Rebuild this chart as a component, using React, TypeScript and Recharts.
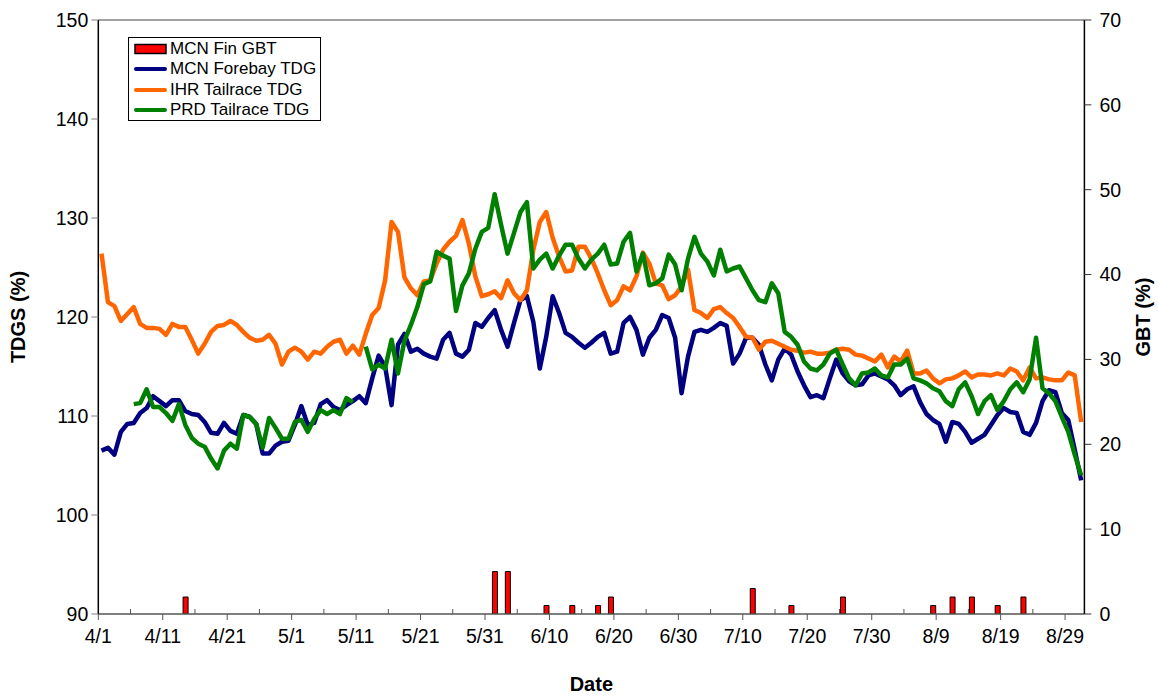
import { Bar, ComposedChart, Label, Legend, Line, ReferenceLine, XAxis, YAxis } from "recharts";

const FONT = "'Liberation Sans', Arial, sans-serif";
const TICK_FONT = 19.5;
const TITLE_FONT = 20;

// major x tick labels, every 10 days from 4/1
const MAJOR_TICK_LABELS = [
  "4/1", "4/11", "4/21", "5/1", "5/11", "5/21", "5/31", "6/10",
  "6/20", "6/30", "7/10", "7/20", "7/30", "8/9", "8/19", "8/29",
];
const LEFT_TICKS = [90, 100, 110, 120, 130, 140, 150];
const RIGHT_TICKS = [0, 10, 20, 30, 40, 50, 60, 70];

// daily values, 4/1 .. 8/31
const MCN_FOREBAY = [
  106.5, 106.8, 106.1, 108.4, 109.2, 109.3, 110.3, 110.8, 112.0, 111.5,
  111.0, 111.6, 111.6, 110.5, 110.2, 110.1, 109.4, 108.3, 108.2, 109.3,
  108.5, 108.2, 110.1, 109.9, 109.2, 106.2, 106.2, 107.0, 107.4, 107.5,
  109.1, 111.0, 109.1, 109.3, 111.2, 111.6, 110.9, 110.6, 111.1, 111.5,
  112.0, 111.3, 113.8, 116.1, 115.0, 111.1, 117.2, 118.3, 116.5, 116.8,
  116.3, 116.0, 115.8, 117.7, 118.4, 116.3, 116.0, 116.7, 119.4, 119.0,
  119.9, 120.7, 118.7, 117.0, 119.4, 121.7, 122.1, 119.5, 114.8, 118.0,
  122.1, 120.4, 118.4, 118.0, 117.4, 116.9, 117.4, 118.0, 118.4, 116.3,
  116.5, 119.4, 120.0, 118.7, 116.2, 117.9, 118.7, 120.2, 119.9, 117.9,
  112.3, 116.0, 118.5, 118.7, 118.5, 118.9, 119.4, 119.1, 115.3, 116.3,
  117.9, 117.9, 117.2, 115.2, 113.6, 115.7, 116.8, 116.2, 114.5, 113.1,
  111.9, 112.1, 111.8, 113.8, 115.7, 114.3, 113.5, 113.1, 113.2, 114.1,
  114.3, 114.0, 113.7, 113.1, 112.1, 112.7, 113.0, 111.4, 110.2, 109.6,
  109.2, 107.4, 109.4, 109.2, 108.4, 107.3, 107.7, 108.1, 109.1, 110.1,
  110.8, 110.4, 110.3, 108.4, 108.1, 109.3, 111.5, 112.6, 112.4, 110.3,
  109.6, 106.6, 103.5,
];

const IHR_TAILRACE = [
  126.4, 121.5, 121.1, 119.6, 120.3, 121.0, 119.3, 118.9, 118.9, 118.8,
  118.2, 119.3, 119.0, 119.0, 117.7, 116.3, 117.3, 118.5, 119.1, 119.2,
  119.6, 119.2, 118.5, 117.9, 117.6, 117.7, 118.2, 117.3, 115.2, 116.5,
  116.9, 116.5, 115.7, 116.5, 116.3, 117.0, 117.5, 117.7, 116.3, 117.1,
  116.2, 118.3, 120.2, 120.9, 123.7, 129.6, 128.6, 124.0, 122.9, 122.2,
  123.6, 123.7, 125.4, 126.8, 127.6, 128.2, 129.8, 127.4, 124.1, 122.1,
  122.3, 122.6, 121.9, 123.7, 122.4, 121.7, 122.7, 126.8, 129.6, 130.6,
  128.0, 126.1, 124.6, 124.7, 127.1, 127.1, 125.9, 124.4, 122.7, 121.2,
  121.7, 123.1, 122.7, 124.1, 126.5, 125.4, 123.4, 123.2, 121.8, 122.2,
  123.1, 124.8, 120.7, 120.4, 119.9, 120.8, 121.0, 120.4, 119.9, 119.0,
  118.0, 117.9, 116.7, 117.5, 117.6, 117.3, 117.0, 116.7, 116.6, 116.4,
  116.5, 116.3, 116.3, 116.4, 116.7, 116.8, 116.7, 116.2, 116.1, 115.8,
  115.5, 116.2, 114.9, 116.0, 115.5, 116.6, 114.3, 114.3, 114.6, 113.8,
  113.3, 113.7, 113.8, 114.1, 114.5, 113.9, 114.2, 114.2, 114.1, 114.3,
  114.1, 114.8, 114.5, 113.6, 114.9, 113.8, 113.9, 113.7, 113.6, 113.6,
  114.4, 114.1, 109.4,
];

const PRD_TAILRACE = [
  null, null, null, null, null, 111.2, 111.3, 112.7, 110.9, 110.9,
  110.3, 109.5, 111.2, 109.1, 107.8, 107.2, 106.9, 105.7, 104.7, 106.5,
  107.2, 106.7, 110.1, 109.9, 109.2, 106.8, 109.8, 108.8, 107.7, 107.7,
  109.4, 109.6, 108.4, 109.7, 110.6, 110.2, 110.6, 110.2, 111.8, 111.4,
  null, 117.0, 114.7, 115.2, 114.8, 117.7, 114.3, 117.6, 119.2, 121.0,
  123.3, 123.6, 126.6, 126.2, 125.9, 120.6, 123.2, 124.4, 126.9, 128.6,
  129.0, 132.4, 129.3, 126.4, 128.5, 130.6, 131.6, 124.9, 125.8, 126.4,
  124.9, 126.2, 127.3, 127.3, 125.9, 124.9, 125.8, 126.4, 127.3, 125.3,
  125.4, 127.6, 128.5, 124.6, 126.4, 123.2, 123.4, 123.9, 126.3, 125.3,
  122.7, 125.9, 128.1, 126.4, 125.6, 124.2, 126.8, 124.6, 124.9, 125.1,
  123.9, 122.7, 121.7, 121.5, 123.4, 122.4, 118.5, 118.0, 117.2, 115.5,
  114.8, 114.6, 115.2, 116.3, 116.7, 115.2, 113.8, 113.1, 114.3, 114.4,
  114.8, 114.1, 113.9, 115.2, 115.2, 115.8, 113.8, 113.6, 113.3, 112.8,
  112.5, 111.5, 111.0, 112.7, 113.4, 112.0, 110.2, 111.5, 112.1, 110.6,
  111.5, 112.7, 113.4, 112.4, 113.7, 117.9, 112.8, 112.3, 111.5, 109.9,
  108.4, 106.1, 104.0,
];

// MCN fin GBT, day index from 4/1 and percent
const GBT_DAYS = [13, 61, 63, 69, 73, 77, 79, 101, 107, 115, 129, 132, 135, 139, 143];
const GBT_VALUES = [2, 5, 5, 1, 1, 1, 2, 3, 1, 2, 1, 2, 2, 1, 2];

const LEGEND_ITEMS = [
  { name: "MCN Fin GBT", color: "#FF0000", bar: true },
  { name: "MCN Forebay TDG", color: "#000080", bar: false },
  { name: "IHR Tailrace TDG", color: "#FF6600", bar: false },
  { name: "PRD Tailrace TDG", color: "#008000", bar: false },
];

const rows = MCN_FOREBAY.map((mcn, day) => {
  const g = GBT_DAYS.indexOf(day);
  return {
    day,
    mcn,
    ihr: IHR_TAILRACE[day],
    prd: PRD_TAILRACE[day],
    gbt: g >= 0 ? GBT_VALUES[g] : null,
  };
});

// tick every 5 days, placed on the day boundary
const X_TICKS = Array.from({ length: 31 }, (_, k) => k * 5 - 0.5);

const X_TICK_SIZE = 6;
const X_TICK_MARGIN = 9;

function DateTick({ x, y, payload }: { x: number; y: number; payload: { value: number } }) {
  const k = Math.round((payload.value + 0.5) / 5);
  const major = k % 2 === 0;
  const axisY = y - X_TICK_SIZE - X_TICK_MARGIN;
  return (
    <g>
      <line
        x1={x}
        x2={x}
        y1={axisY}
        y2={major ? axisY + X_TICK_SIZE : axisY - 5}
        stroke="#555"
        strokeWidth={1}
      />
      {major && (
        <text x={x} y={y} dy="0.71em" textAnchor="middle" fontSize={TICK_FONT} fill="#000" fontFamily={FONT}>
          {MAJOR_TICK_LABELS[k / 2]}
        </text>
      )}
    </g>
  );
}

function LegendBox() {
  return (
    <div
      style={{
        border: "1px solid #000",
        background: "#fff",
        width: 193,
        height: 84,
        boxSizing: "border-box",
        padding: "1px 0 0 5px",
        fontFamily: FONT,
        fontSize: 17,
        color: "#000",
      }}
    >
      {LEGEND_ITEMS.map((item) => (
        <div key={item.name} style={{ display: "flex", alignItems: "center", height: 20.3 }}>
          <svg width={34} height={12} style={{ marginRight: 2, flex: "none" }}>
            {item.bar ? (
              <rect x={1} y={1.5} width={31} height={9} fill={item.color} stroke="#000" strokeWidth={1.5} />
            ) : (
              <line x1={2} x2={31} y1={6} y2={6} stroke={item.color} strokeWidth={4} strokeLinecap="round" />
            )}
          </svg>
          <span style={{ lineHeight: "20px", whiteSpace: "nowrap" }}>{item.name}</span>
        </div>
      ))}
    </div>
  );
}

function rotatedTitle(text: string, dxFromLeft: number) {
  return ({ viewBox }: { viewBox?: { x: number; y: number; width: number; height: number } }) => {
    if (!viewBox) return null;
    const cx = viewBox.x + dxFromLeft;
    const cy = viewBox.y + viewBox.height / 2;
    return (
      <text
        x={cx}
        y={cy}
        transform={`rotate(-90 ${cx} ${cy})`}
        textAnchor="middle"
        dominantBaseline="central"
        fontSize={TITLE_FONT}
        fontWeight="bold"
        fontFamily={FONT}
        fill="#000"
      >
        {text}
      </text>
    );
  };
}

function DateTitle({ viewBox }: { viewBox?: { x: number; y: number; width: number; height: number } }) {
  if (!viewBox) return null;
  return (
    <text
      x={viewBox.x + viewBox.width / 2}
      y={viewBox.y + 77}
      textAnchor="middle"
      fontSize={TITLE_FONT}
      fontWeight="bold"
      fontFamily={FONT}
      fill="#000"
    >
      Date
    </text>
  );
}

export default function App() {
  return (
    <div style={{ width: 1158, height: 696, background: "#fff", fontFamily: FONT }}>
      <style>{"body{margin:0}"}</style>
      <ComposedChart width={1158} height={696} data={rows} margin={{ top: 20, right: 0, bottom: 0, left: 0 }}>
        <XAxis
          dataKey="day"
          type="number"
          domain={[-0.5, 152.5]}
          ticks={X_TICKS}
          interval={0}
          height={82}
          tickSize={X_TICK_SIZE}
          tickMargin={X_TICK_MARGIN}
          tickLine={false}
          tick={DateTick}
          axisLine={{ stroke: "#555", strokeWidth: 1.5 }}
          allowDataOverflow
        >
          <Label content={DateTitle} />
        </XAxis>
        <YAxis
          yAxisId="left"
          domain={[90, 150]}
          ticks={LEFT_TICKS}
          interval={0}
          width={98.3}
          tickSize={7}
          tickMargin={3}
          tick={{ fontSize: TICK_FONT, fill: "#000", fontFamily: FONT }}
          tickLine={{ stroke: "#808080" }}
          axisLine={{ stroke: "#000", strokeWidth: 1.5 }}
          allowDataOverflow
        >
          <Label content={rotatedTitle("TDGS (%)", 18)} />
        </YAxis>
        <YAxis
          yAxisId="right"
          orientation="right"
          domain={[0, 70]}
          ticks={RIGHT_TICKS}
          interval={0}
          width={73.6}
          tickSize={7}
          tickMargin={8}
          tick={{ fontSize: TICK_FONT, fill: "#000", fontFamily: FONT, textAnchor: "start" }}
          tickLine={{ stroke: "#333" }}
          axisLine={{ stroke: "#000", strokeWidth: 1.5 }}
          allowDataOverflow
        >
          <Label content={rotatedTitle("GBT (%)", 58.5)} />
        </YAxis>
        <ReferenceLine yAxisId="left" y={150} stroke="#808080" strokeWidth={1.5} />
        <Bar
          yAxisId="right"
          dataKey="gbt"
          name="MCN Fin GBT"
          barSize={5}
          fill="#FF0000"
          stroke="#000"
          strokeWidth={1}
          isAnimationActive={false}
        />
        <Line
          yAxisId="left"
          type="linear"
          dataKey="mcn"
          name="MCN Forebay TDG"
          stroke="#000080"
          strokeWidth={4.5}
          strokeLinejoin="round"
          dot={false}
          activeDot={false}
          isAnimationActive={false}
        />
        <Line
          yAxisId="left"
          type="linear"
          dataKey="ihr"
          name="IHR Tailrace TDG"
          stroke="#FF6600"
          strokeWidth={4.5}
          strokeLinejoin="round"
          dot={false}
          activeDot={false}
          isAnimationActive={false}
        />
        <Line
          yAxisId="left"
          type="linear"
          dataKey="prd"
          name="PRD Tailrace TDG"
          stroke="#008000"
          strokeWidth={4.5}
          strokeLinejoin="round"
          dot={false}
          activeDot={false}
          connectNulls={false}
          isAnimationActive={false}
        />
        <Legend
          layout="vertical"
          align="center"
          verticalAlign="middle"
          content={<LegendBox />}
          wrapperStyle={{ left: 128, top: 37, width: 193, height: 84 }}
        />
      </ComposedChart>
    </div>
  );
}
